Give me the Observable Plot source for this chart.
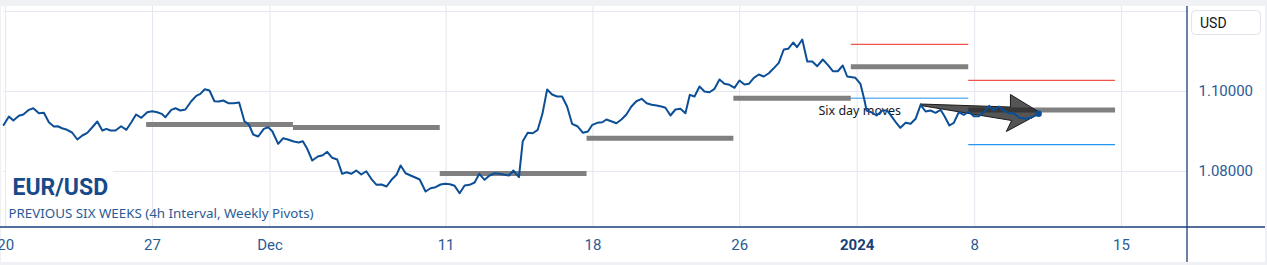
<!DOCTYPE html>
<html><head><meta charset="utf-8">
<script src="https://cdn.jsdelivr.net/npm/d3@7"></script>
<script src="https://cdn.jsdelivr.net/npm/@observablehq/plot@0.6"></script>
<style>
html,body{margin:0;padding:0;background:#f0f1f5;}
#chart{width:1267px;height:265px;overflow:hidden;}
</style></head><body><div id="chart"></div>
<script>
// x is measured in trading days since the Nov 20 open (weekends/holidays collapsed)
const tradingDay = [
 -0.07,0.11,0.26,0.45,0.60,0.79,0.94,1.13,1.30,1.47,1.64,1.77,1.92,2.09,2.26,2.44,2.61,2.78,2.95,3.12,3.29,3.43,3.57,3.74,3.93,4.11,4.28,4.44,4.62,4.82,4.99,5.16,5.31,5.44,5.64,5.78,5.95,6.12,6.32,6.49,6.63,6.78,6.94,7.11,7.26,7.41,7.58,7.77,7.95,8.13,8.28,8.43,8.60,8.79,8.94,9.08,9.28,9.45,9.61,9.81,9.98,
 10.12,10.27,10.44,10.63,10.80,10.95,11.12,11.29,11.46,11.61,11.77,11.94,12.11,12.28,12.45,12.63,12.80,12.97,13.14,13.31,13.45,13.62,13.79,13.93,14.10,14.30,14.47,14.64,14.81,14.96,15.13,15.29,15.46,15.63,15.80,15.97,16.13,16.31,16.48,16.65,16.82,16.99,17.14,17.29,17.48,17.61,17.78,17.95,18.12,18.28,18.44,18.61,18.78,18.95,19.12,19.29,19.47,19.66,19.83,
 19.98,20.15,20.32,20.46,20.62,20.80,20.97,21.14,21.31,21.48,21.66,21.83,22.00,22.17,22.33,22.47,22.64,22.81,22.98,23.15,23.30,23.46,23.63,23.80,23.97,24.14,24.31,24.48,24.65,24.82,24.99,25.16,25.31,25.48,25.65,25.82,25.99,26.14,26.33,26.50,26.65,26.82,26.95,27.13,27.30,27.47,27.64,27.83,28.00,28.17,28.34,28.51,28.66,
 28.94,29.11,29.25,29.32,29.48,29.66,29.86,30.02,30.19,30.34,30.47,30.65,30.82,30.99,31.16,31.33,31.50,31.67,31.84,31.98,32.14,32.29,32.46,32.63,32.80,32.97,33.14,33.31,33.50,33.65,33.82,33.99,34.16,34.33,34.52,34.73,34.92,35.06,35.18
];
const closePrice = [
 1.09162,1.09375,1.09275,1.09392,1.09425,1.09542,1.09582,1.09457,1.09467,1.09232,1.09125,1.09132,1.09082,1.09042,1.08975,1.08800,1.08900,1.08967,1.09107,1.09250,1.09025,1.09067,1.09025,1.09025,1.09132,1.09042,1.09232,1.09425,1.09342,1.09482,1.09507,1.09482,1.09442,1.09357,1.09542,1.09582,1.09525,1.09550,1.09757,1.09892,1.09942,1.10057,1.10025,1.09757,1.09750,1.09775,1.09707,1.09707,1.09725,1.09257,1.09175,1.08925,1.08875,1.09067,1.09107,1.09007,1.08692,1.08832,1.08800,1.08750,1.08725,
 1.08757,1.08567,1.08275,1.08375,1.08407,1.08492,1.08342,1.08300,1.07942,1.07982,1.07942,1.08025,1.07925,1.08007,1.07817,1.07667,1.07675,1.07625,1.07792,1.07917,1.08150,1.07957,1.07900,1.07857,1.07800,1.07500,1.07582,1.07607,1.07675,1.07692,1.07682,1.07642,1.07457,1.07650,1.07667,1.07725,1.07942,1.07792,1.07900,1.07957,1.07942,1.07917,1.07900,1.08025,1.07857,1.08757,1.08967,1.08957,1.09042,1.09442,1.10050,1.09925,1.09875,1.09875,1.09625,1.09192,1.09132,1.08967,1.09000,
 1.09167,1.09217,1.09232,1.09300,1.09257,1.09207,1.09300,1.09425,1.09625,1.09757,1.09817,1.09707,1.09667,1.09650,1.09625,1.09592,1.09400,1.09550,1.09567,1.09457,1.09917,1.09875,1.10125,1.10000,1.09982,1.10067,1.10300,1.10192,1.10167,1.10092,1.10275,1.10175,1.10192,1.10342,1.10425,1.10375,1.10457,1.10567,1.10717,1.11050,1.11067,1.11225,1.11107,1.11300,1.10750,1.10750,1.10632,1.10800,1.10667,1.10507,1.10507,1.10650,1.10375,
 1.10342,1.10192,1.09775,1.09525,1.09482,1.09400,1.09525,1.09525,1.09357,1.09207,1.09092,1.09217,1.09192,1.09317,1.09667,1.09500,1.09525,1.09467,1.09542,1.09375,1.09150,1.09217,1.09482,1.09417,1.09500,1.09382,1.09382,1.09482,1.09642,1.09525,1.09625,1.09525,1.09457,1.09457,1.09342,1.09317,1.09342,1.09400,1.09442
];
// weekly pivots (each week opens Sunday evening, just before the Monday tick)
const weekFrom = [4.8, 9.8, 14.8, 19.8, 24.8, 28.8, 32.8];
const weekTo   = [9.8, 14.8, 19.8, 24.8, 28.8, 32.8, 37.8];
const pivotLevel = [1.09175, 1.0910, 1.0795, 1.0883, 1.0983, 1.1062, 1.0954];
const bandFrom = [28.8, 32.8];
const bandTo   = [32.8, 37.8];
const r1Level = [1.1118, 1.1028];
const s1Level = [1.0983, 1.0867];
// axis ticks
const tickDay   = [0, 5, 9, 15, 20, 25, 29, 33, 38];
const tickLabel = ["20", "27", "Dec", "11", "18", "26", "2024", "8", "15"];
const priceTicks = [1.08, 1.10];
const priceGrid  = [1.08, 1.10, 1.12];
// annotation
const arrowDay   = [31.16, 34.22, 34.22, 35.25, 34.08, 34.26, 31.16, 31.16];
const arrowPrice = [1.09687, 1.09612, 1.09925, 1.09462, 1.09000, 1.09275, 1.09650, 1.09687];
const noteDay = [27.68], notePrice = [1.09525], noteText = ["Six day moves"];
const titleText = ["EUR/USD"];
const subtitleText = ["PREVIOUS SIX WEEKS (4h Interval, Weekly Pivots)"];
const currencyText = "USD";

const series = tradingDay.map((t, i) => ({t, p: closePrice[i]}));
const pivots = weekFrom.map((a, i) => ({x1: a, x2: weekTo[i], y: pivotLevel[i]}));
const r1 = bandFrom.map((a, i) => ({x1: a, x2: bandTo[i], y: r1Level[i], k: i}));
const s1 = bandFrom.map((a, i) => ({x1: a, x2: bandTo[i], y: s1Level[i], k: i}));
const ticks = tickDay.map((t, i) => ({t, label: tickLabel[i]}));
const arrow = arrowDay.map((t, i) => ({t, p: arrowPrice[i]}));
const note = noteDay.map((t, i) => ({t, p: notePrice[i], text: noteText[i]}));

const blue = "#0c4f96";
const labelBlue = "#2a5b96";
const sep = "#1b3f7c";
const sans = "'Noto Sans', Roboto, sans-serif";

const panel = (index, scales, values, d) => {
  const r = d3.create("svg:rect");
  r.attr("x", 1).attr("y", 6).attr("width", d.width - 3).attr("height", d.height - 9).attr("fill", "white");
  return r.node();
};
const titleBg = (index, scales, values, d) => {
  const r = d3.create("svg:rect");
  r.attr("x", 6).attr("y", 166).attr("width", 107).attr("height", 34).attr("fill", "white");
  return r.node();
};
const separators = (index, scales, values, d) => {
  const g = d3.create("svg:g").attr("stroke", sep).attr("stroke-width", 1.3);
  const by = d.height - d.marginBottom, rx = d.width - d.marginRight;
  g.append("line").attr("x1", 0).attr("x2", d.width - 2).attr("y1", by).attr("y2", by);
  g.append("line").attr("x1", rx).attr("x2", rx).attr("y1", 6).attr("y2", d.height - 3);
  return g.node();
};
const usdBox = (index, scales, values, d) => {
  const g = d3.create("svg:g");
  const x0 = d.width - d.marginRight + 4.5;
  g.append("rect").attr("x", x0).attr("y", 10.5).attr("width", 69).attr("height", 24)
    .attr("rx", 4).attr("fill", "white").attr("stroke", "#e0e3eb");
  g.append("text").attr("x", x0 + 8.5).attr("y", 23).attr("dy", "0.35em")
    .attr("text-anchor", "start").attr("fill", "#131722").attr("font-size", 14).text(currencyText);
  return g.node();
};

const chart = Plot.plot({
  width: 1267, height: 265,
  marginLeft: 3, marginRight: 80, marginTop: 6, marginBottom: 38,
  style: {background: "#f0f1f5", fontFamily: "Roboto, 'Noto Sans', sans-serif", fontSize: "15px", overflow: "hidden"},
  x: {domain: [-0.075, 40.25], axis: null},
  y: {domain: [1.066, 1.12125], axis: null},
  marks: [
    panel,
    Plot.gridX(tickDay, {stroke: "#e4e7ef", strokeOpacity: 1}),
    Plot.gridY(priceGrid, {stroke: "#e4e7ef", strokeOpacity: 1}),
    titleBg,
    Plot.text(titleText, {text: d => d, frameAnchor: "bottom-left", dx: 9, dy: -40, lineAnchor: "middle", textAnchor: "start", fontSize: 23, fontWeight: "bold", fill: "#164a8a"}),
    Plot.text(subtitleText, {text: d => d, frameAnchor: "bottom-left", dx: 5, dy: -14, lineAnchor: "middle", textAnchor: "start", fontSize: 13.35, fontFamily: sans, fill: labelBlue}),
    Plot.ruleY(pivots, {x1: "x1", x2: "x2", y: "y", stroke: "#808080", strokeWidth: 5}),
    Plot.ruleY(r1, {x1: "x1", x2: "x2", y: "y", stroke: "#f0534a", strokeWidth: 1.2}),
    Plot.ruleY(s1, {x1: "x1", x2: "x2", y: "y", stroke: d => d.k === 0 ? "#6cb8f4" : "#2196f3", strokeWidth: d => d.k === 0 ? 1.6 : 1.2}),
    Plot.text(note, {x: "t", y: "p", text: "text", textAnchor: "start", lineAnchor: "middle", fontSize: 12.5, fontFamily: sans, fill: "#131722"}),
    Plot.line(arrow, {x: "t", y: "p", fill: "#202020", fillOpacity: 0.76, stroke: "#1a1a1a", strokeWidth: 1, strokeLinejoin: "miter"}),
    Plot.line(series, {x: "t", y: "p", stroke: blue, strokeWidth: 2, strokeLinejoin: "round"}),
    Plot.dot(series.slice(-1), {x: "t", y: "p", r: 3.2, fill: blue}),
    separators,
    Plot.text(ticks.filter(d => d.label !== "2024"), {x: "t", text: "label", frameAnchor: "bottom", dy: 18, lineAnchor: "middle", fill: labelBlue, fontSize: 15}),
    Plot.text(ticks.filter(d => d.label === "2024"), {x: "t", text: "label", frameAnchor: "bottom", dy: 18, lineAnchor: "middle", fill: "#1a3f78", fontSize: 15, fontWeight: "bold"}),
    Plot.text(priceTicks, {y: d => d, text: d => d3.format(".5f")(d), frameAnchor: "right", dx: 11, textAnchor: "start", lineAnchor: "middle", fill: labelBlue, fontSize: 15}),
    usdBox
  ]
});
document.getElementById("chart").appendChild(chart);
</script>
</body></html>
